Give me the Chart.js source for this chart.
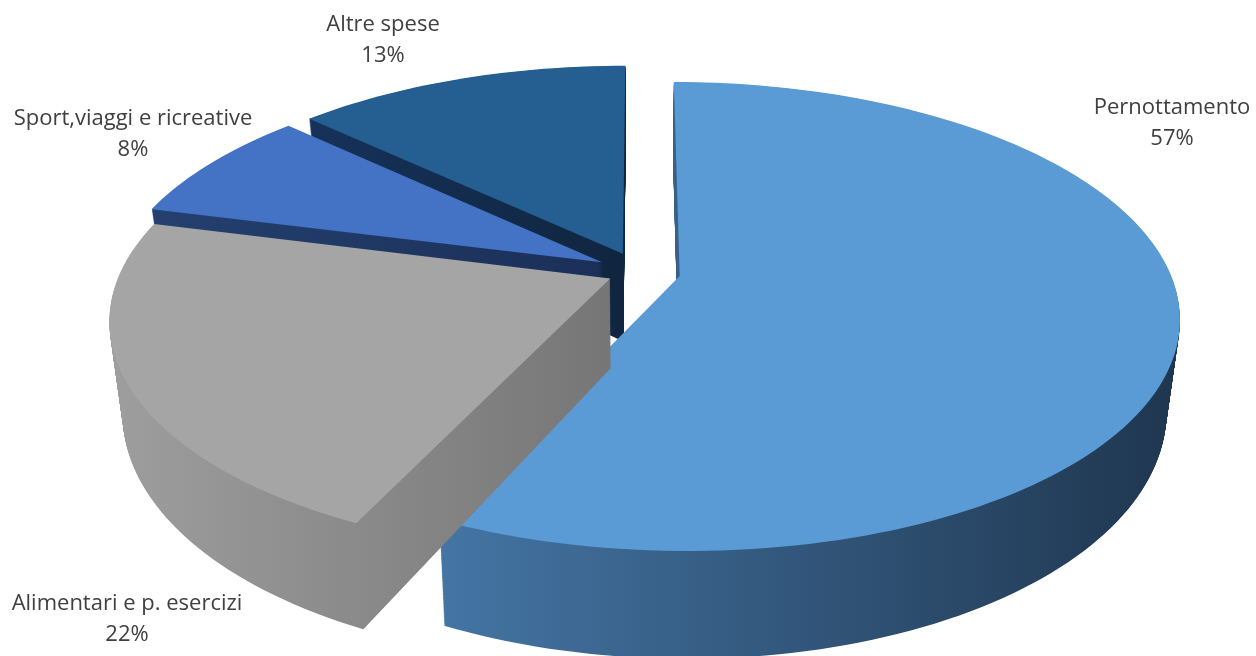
<!DOCTYPE html>
<html>
<head>
<meta charset="utf-8">
<script src="https://cdn.jsdelivr.net/npm/chart.js@4.4.1/dist/chart.umd.min.js"></script>
<style>
  html, body { margin: 0; padding: 0; background: #fff; }
  canvas { display: block; }
</style>
</head>
<body>
<canvas id="spesaChart" width="1256" height="656"></canvas>
<script>
// Dati del grafico
const categorie = ["Pernottamento", "Alimentari e p. esercizi", "Sport,viaggi e ricreative", "Altre spese"];
const percentuali = [57, 22, 8, 13];
const coloriTop = ["#5b9bd5", "#a5a5a5", "#4472c4", "#255e91"];
const coloriLato = [["#4475a4", "#1f364f"], ["#9e9e9e", "#767676"], ["#24406f", "#1b2f58"], ["#16325a", "#10253f"]];
const esplosione = [26, 21, 28, 28];

// Parametri della vista 3D (prospettiva della torta)
const vista = { cx: 640, a: 490, d: 179.4, e: 272, g: -0.1717, altezza: 89, restringi: 0.975 };

function proietta(u, v, h) {
  const w = 1 + vista.g * v;
  const k = vista.restringi + (1 - vista.restringi) * h;
  return {
    x: vista.cx + (vista.a * u / w) * k,
    y: (vista.d * v + vista.e) / w + (1 - h) * vista.altezza / w,
  };
}

// Disegna il contorno di una fetta all'altezza h (0 = base, 1 = sopra)
function tracciaFetta(ctx, arc, r, h) {
  const off = arc.options.offset / r;
  const mid = (arc.startAngle + arc.endAngle) / 2;
  const ou = Math.cos(mid) * off;
  const ov = Math.sin(mid) * off;
  const passi = Math.max(8, Math.ceil((arc.endAngle - arc.startAngle) * 40));
  let minX = Infinity, maxX = -Infinity;
  ctx.beginPath();
  let p = proietta(ou, ov, h);
  ctx.moveTo(p.x, p.y);
  minX = maxX = p.x;
  for (let s = 0; s <= passi; s++) {
    const t = arc.startAngle + (arc.endAngle - arc.startAngle) * s / passi;
    p = proietta(ou + Math.cos(t), ov + Math.sin(t), h);
    ctx.lineTo(p.x, p.y);
    minX = Math.min(minX, p.x);
    maxX = Math.max(maxX, p.x);
  }
  ctx.closePath();
  return { minX, maxX };
}

//! Plugin torta 3D
const torta3d = {
  id: "torta3d",
  beforeDatasetsDraw(chart) {
    const ctx = chart.ctx;
    const arcs = chart.getDatasetMeta(0).data;
    const r = arcs[0].outerRadius;

    // dal fondo verso l'osservatore
    const ordine = arcs
      .map((arc, i) => i)
      .sort((i, j) => {
        const mi = (arcs[i].startAngle + arcs[i].endAngle) / 2;
        const mj = (arcs[j].startAngle + arcs[j].endAngle) / 2;
        return Math.sin(mi) - Math.sin(mj);
      });

    ctx.save();
    ordine.forEach((i) => {
      const arc = arcs[i];
      const range = tracciaFetta(ctx, arc, r, 1);
      const grad = ctx.createLinearGradient(range.minX, 0, range.maxX, 0);
      grad.addColorStop(0, coloriLato[i][0]);
      grad.addColorStop(1, coloriLato[i][1]);

      // lati: strati dalla base verso l'alto
      const strati = 130;
      ctx.fillStyle = grad;
      for (let s = 0; s < strati; s++) {
        tracciaFetta(ctx, arc, r, s / strati);
        ctx.fill();
      }

      // faccia superiore
      tracciaFetta(ctx, arc, r, 1);
      ctx.fillStyle = arc.options.backgroundColor;
      ctx.fill();
    });
    ctx.restore();
    return false;
  },
  afterDraw(chart, args, opts) {
    const ctx = chart.ctx;
    const labels = chart.data.labels;
    const values = chart.data.datasets[0].data;
    ctx.save();
    ctx.font = "22px 'Open Sans'";
    ctx.fillStyle = "#404040";
    ctx.textAlign = "center";
    ctx.textBaseline = "alphabetic";
    opts.posizioni.forEach((p, i) => {
      ctx.fillText(labels[i], p.x, p.y);
      ctx.fillText(values[i] + "%", p.x, p.y + 31);
    });
    ctx.restore();
  },
};

new Chart(document.getElementById("spesaChart").getContext("2d"), {
  type: "pie",
  data: {
    labels: categorie,
    datasets: [
      {
        data: percentuali,
        backgroundColor: coloriTop,
        offset: esplosione,
        borderWidth: 0,
      },
    ],
  },
  options: {
    responsive: false,
    animation: false,
    plugins: {
      legend: { display: false },
      tooltip: { enabled: false },
      torta3d: {
        posizioni: [
          { x: 1172, y: 114 },
          { x: 127, y: 610 },
          { x: 133, y: 125 },
          { x: 383, y: 31 },
        ],
      },
    },
  },
  plugins: [torta3d],
});
</script>
</body>
</html>
